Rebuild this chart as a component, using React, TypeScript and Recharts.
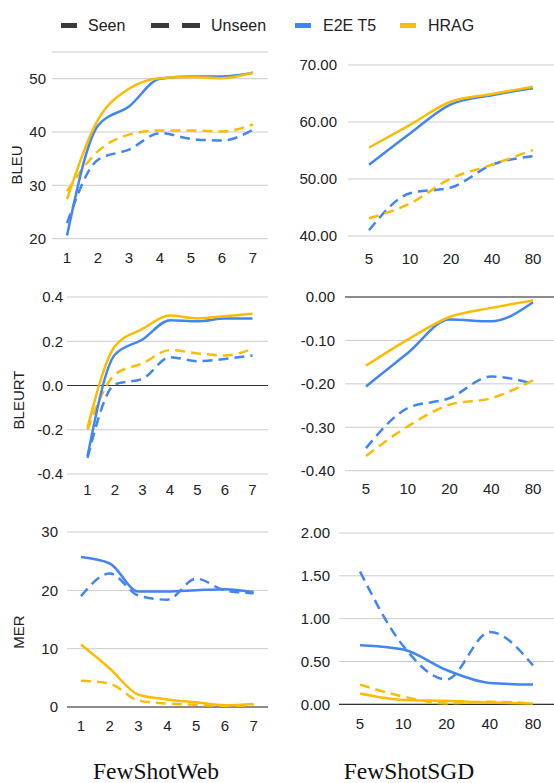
import React from 'react';
import { LineChart, Line, XAxis, YAxis, CartesianGrid, ReferenceLine } from 'recharts';

const FONT = '"Liberation Sans", Arial, sans-serif';
const BLUE = '#4285F4';
const YELLOW = '#FBBC04';
const TEXT = '#222';

// x categories
const webShots = ['1', '2', '3', '4', '5', '6', '7'];
const sgdShots = ['5', '10', '20', '40', '80'];

// FewShotWeb - BLEU
const webBleuT5Seen = [20.6, 41.2, 44.8, 50.0, 50.4, 50.4, 51.1];
const webBleuT5Unseen = [22.9, 34.8, 36.7, 39.8, 38.7, 38.4, 40.4];
const webBleuHragSeen = [27.4, 42.3, 48.1, 50.1, 50.3, 50.1, 51.1];
const webBleuHragUnseen = [28.9, 36.4, 39.5, 40.3, 40.3, 40.1, 41.4];

// FewShotSGD - BLEU
const sgdBleuT5Seen = [52.5, 58.0, 63.1, 64.7, 65.9];
const sgdBleuT5Unseen = [41.0, 47.5, 48.5, 52.5, 54.0];
const sgdBleuHragSeen = [55.5, 59.5, 63.6, 64.9, 66.2];
const sgdBleuHragUnseen = [43.1, 45.7, 50.1, 52.5, 55.1];

// FewShotWeb - BLEURT
const webBleurtT5Seen = [-0.32, 0.14, 0.208, 0.295, 0.29, 0.303, 0.303];
const webBleurtT5Unseen = [-0.327, 0.005, 0.03, 0.128, 0.11, 0.12, 0.136];
const webBleurtHragSeen = [-0.19, 0.178, 0.256, 0.316, 0.303, 0.313, 0.324];
const webBleurtHragUnseen = [-0.2, 0.05, 0.1, 0.16, 0.145, 0.136, 0.166];

// FewShotSGD - BLEURT
const sgdBleurtT5Seen = [-0.206, -0.129, -0.052, -0.056, -0.012];
const sgdBleurtT5Unseen = [-0.348, -0.256, -0.233, -0.183, -0.2];
const sgdBleurtHragSeen = [-0.158, -0.098, -0.046, -0.025, -0.008];
const sgdBleurtHragUnseen = [-0.366, -0.298, -0.248, -0.233, -0.192];

// FewShotWeb - MER
const webMerT5Seen = [25.7, 24.6, 19.8, 19.8, 20.0, 20.2, 19.7];
const webMerT5Unseen = [19.0, 22.9, 19.1, 18.4, 22.0, 20.0, 19.5];
const webMerHragSeen = [10.7, 6.6, 2.1, 1.3, 0.8, 0.3, 0.5];
const webMerHragUnseen = [4.5, 4.0, 1.1, 0.6, 0.4, 0.2, 0.3];

// FewShotSGD - MER
const sgdMerT5Seen = [0.69, 0.64, 0.4, 0.25, 0.23];
const sgdMerT5Unseen = [1.55, 0.68, 0.29, 0.845, 0.455];
const sgdMerHragSeen = [0.125, 0.05, 0.04, 0.02, 0.01];
const sgdMerHragUnseen = [0.23, 0.09, 0.01, 0.03, 0.01];

type PanelProps = {
  left: number;
  plotL: number;
  plotR: number;
  plotTop: number;
  plotBottom: number;
  cats: string[];
  t5Seen: number[];
  t5Unseen: number[];
  hragSeen: number[];
  hragUnseen: number[];
  domain: [number, number];
  ticks: number[];
  digits: number;
  yGap: number;
  xGap: number;
  padL: number;
  padR: number;
  zero?: boolean;
};

function Panel(p: PanelProps) {
  const rows = p.cats.map((c, i) => ({
    x: c,
    t5Seen: p.t5Seen[i],
    t5Unseen: p.t5Unseen[i],
    hragSeen: p.hragSeen[i],
    hragUnseen: p.hragUnseen[i],
  }));
  const top = p.plotTop - 10;
  const width = p.plotR - p.left;
  const height = p.plotBottom - top + 40;
  const tick = { fill: TEXT, fontSize: 15, fontFamily: FONT };
  const common = { type: 'monotone' as const, dot: false, activeDot: false, strokeWidth: 2.5, isAnimationActive: false };

  return (
    <div style={{ position: 'absolute', left: p.left, top }}>
      <LineChart width={width} height={height} data={rows} margin={{ top: 10, right: 0, bottom: 0, left: 0 }}>
        <CartesianGrid vertical={false} stroke="#cccccc" />
        <XAxis
          dataKey="x"
          height={40}
          axisLine={false}
          tickLine={false}
          tickSize={0}
          tickMargin={p.xGap}
          interval={0}
          padding={{ left: p.padL, right: p.padR }}
          tick={tick}
        />
        <YAxis
          type="number"
          width={p.plotL - p.left}
          domain={p.domain}
          ticks={p.ticks}
          interval={0}
          axisLine={false}
          tickLine={false}
          tickSize={0}
          tickMargin={p.yGap}
          tickFormatter={(v: number) => v.toFixed(p.digits)}
          tick={tick}
        />
        {p.zero && <ReferenceLine y={0} stroke="#333" strokeWidth={1.2} />}
        <Line {...common} dataKey="t5Unseen" stroke={BLUE} strokeDasharray="10 6" />
        <Line {...common} dataKey="hragUnseen" stroke={YELLOW} strokeDasharray="10 6" />
        <Line {...common} dataKey="t5Seen" stroke={BLUE} />
        <Line {...common} dataKey="hragSeen" stroke={YELLOW} />
      </LineChart>
    </div>
  );
}

function Legend() {
  const sw = (x: number, w: number, color: string) => (
    <div style={{ position: 'absolute', left: x, top: 23, width: w, height: 5, background: color }} />
  );
  const txt = (x: number, s: string) => (
    <div style={{ position: 'absolute', left: x, top: 16, fontSize: 16, fontFamily: FONT, color: TEXT, lineHeight: '20px', whiteSpace: 'nowrap' }}>{s}</div>
  );
  return (
    <>
      {sw(61, 16, '#3a3a3a')}
      {txt(88, 'Seen')}
      {sw(151, 18, '#3a3a3a')}
      {sw(182, 18, '#3a3a3a')}
      {txt(211, 'Unseen')}
      {sw(295, 16, BLUE)}
      {txt(323, 'E2E T5')}
      {sw(400, 16, YELLOW)}
      {txt(428, 'HRAG')}
    </>
  );
}

function YTitle({ cx, cy, text }: { cx: number; cy: number; text: string }) {
  return (
    <div
      style={{
        position: 'absolute', left: cx, top: cy, transform: 'translate(-50%, -50%) rotate(-90deg)',
        fontSize: 15, fontFamily: FONT, color: TEXT, whiteSpace: 'nowrap', lineHeight: '16px',
      }}
    >
      {text}
    </div>
  );
}

function Title({ cx, text }: { cx: number; text: string }) {
  return (
    <div
      style={{
        position: 'absolute', left: cx, top: 757, transform: 'translateX(-50%)',
        fontSize: 23.5, fontFamily: '"Liberation Serif", "Times New Roman", serif', color: '#111',
        whiteSpace: 'nowrap', lineHeight: '28px',
      }}
    >
      {text}
    </div>
  );
}

export default function App() {
  return (
    <div style={{ position: 'absolute', left: 0, top: 0, width: 554, height: 783, background: '#fff', overflow: 'hidden' }}>
      <Legend />

      <Panel left={0} plotL={52} plotR={268} plotTop={52.33} plotBottom={239} cats={webShots} padL={15} padR={15}
        t5Seen={webBleuT5Seen} t5Unseen={webBleuT5Unseen} hragSeen={webBleuHragSeen} hragUnseen={webBleuHragUnseen}
        domain={[20, 55]} ticks={[20, 30, 40, 50]} digits={0} yGap={6} xGap={14} />
      <Panel left={280} plotL={348} plotR={554} plotTop={65} plotBottom={236} cats={sgdShots} padL={21} padR={21}
        t5Seen={sgdBleuT5Seen} t5Unseen={sgdBleuT5Unseen} hragSeen={sgdBleuHragSeen} hragUnseen={sgdBleuHragUnseen}
        domain={[40, 70]} ticks={[40, 50, 60, 70]} digits={2} yGap={11} xGap={17} />

      <Panel left={0} plotL={67} plotR={268} plotTop={297} plotBottom={474} cats={webShots} padL={20.5} padR={15.5}
        t5Seen={webBleurtT5Seen} t5Unseen={webBleurtT5Unseen} hragSeen={webBleurtHragSeen} hragUnseen={webBleurtHragUnseen}
        domain={[-0.4, 0.4]} ticks={[-0.4, -0.2, 0, 0.2, 0.4]} digits={1} yGap={4} xGap={10} zero />
      <Panel left={280} plotL={345} plotR={554} plotTop={297.3} plotBottom={471} cats={sgdShots} padL={21} padR={21}
        t5Seen={sgdBleurtT5Seen} t5Unseen={sgdBleurtT5Unseen} hragSeen={sgdBleurtHragSeen} hragUnseen={sgdBleurtHragUnseen}
        domain={[-0.4, 0]} ticks={[-0.4, -0.3, -0.2, -0.1, 0]} digits={2} yGap={10} xGap={13} zero />

      <Panel left={0} plotL={67} plotR={268} plotTop={531.7} plotBottom={706.7} cats={webShots} padL={14} padR={14.4}
        t5Seen={webMerT5Seen} t5Unseen={webMerT5Unseen} hragSeen={webMerHragSeen} hragUnseen={webMerHragUnseen}
        domain={[0, 30]} ticks={[0, 10, 20, 30]} digits={0} yGap={9} xGap={13} zero />
      <Panel left={280} plotL={339} plotR={554} plotTop={532.7} plotBottom={704} cats={sgdShots} padL={21} padR={21}
        t5Seen={sgdMerT5Seen} t5Unseen={sgdMerT5Unseen} hragSeen={sgdMerHragSeen} hragUnseen={sgdMerHragUnseen}
        domain={[0, 2]} ticks={[0, 0.5, 1, 1.5, 2]} digits={2} yGap={9} xGap={14} zero />

      <YTitle cx={17} cy={165} text="BLEU" />
      <YTitle cx={19} cy={400} text="BLEURT" />
      <YTitle cx={19} cy={632} text="MER" />

      <Title cx={156} text="FewShotWeb" />
      <Title cx={409} text="FewShotSGD" />
    </div>
  );
}
